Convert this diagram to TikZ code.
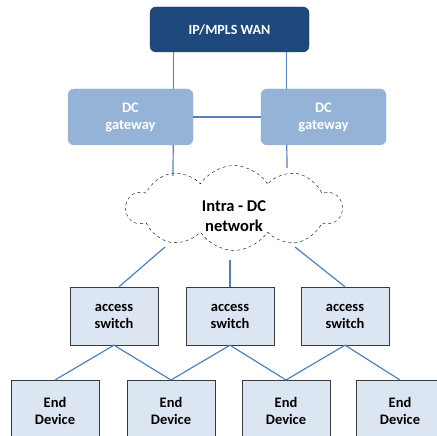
\documentclass[tikz,border=0pt]{standalone}
\usepackage{fontspec}
\setmainfont{Carlito}
\usetikzlibrary{shapes.symbols, positioning, calc}
\definecolor{wannavy}{HTML}{1F497D}
\definecolor{gwblue}{HTML}{95B3D7}
\definecolor{boxfill}{HTML}{DCE6F2}
\definecolor{boxline}{HTML}{3A3A3A}
\definecolor{linkblue}{HTML}{4F81BD}

\begin{document}
\begin{tikzpicture}[x=1pt, y=1pt,
  wanbox/.style={fill=wannavy, draw=wannavy!80!black, rounded corners=6pt, minimum width=159pt, minimum height=45pt, text=white, font=\fontsize{14}{17}\selectfont\bfseries},
  gwbox/.style={fill=gwblue, draw=gwblue, rounded corners=6pt, minimum width=125pt, minimum height=56pt, text=white, align=center, font=\fontsize{14.5}{17}\selectfont\bfseries},
  accbox/.style={fill=boxfill, draw=boxline, minimum width=88pt, minimum height=58pt, align=center, font=\fontsize{14.5}{17}\selectfont\bfseries},
  devbox/.style={accbox, minimum height=62pt},
  netcloud/.style={cloud, draw, dashed, cloud puffs=10, cloud puff arc=115, aspect=2.5, minimum width=215pt, minimum height=85pt},
  cloudtext/.style={align=center, font=\fontsize{16.5}{20}\selectfont\bfseries},
  link/.style={draw=linkblue, line width=1.2pt}
]
\useasboundingbox (0,0) rectangle (437,436);
\begin{scope}
\clip (0,0) rectangle (437,436);
% core
\node[wanbox] (wan) at (229.5,406.5) {IP/MPLS WAN};
\node[gwbox] (gwl) at (130.5,319) {DC\\gateway};
\node[gwbox] (gwr) at (323.5,319) {DC\\gateway};
\node[netcloud] (net) at (234,228) {};
\node[cloudtext] (nettxt) at ([yshift=-8pt]net.center) {Intra - DC\\network};
% access layer
\node[accbox] (sw1) at (114,120) {access\\switch};
\node[accbox] (sw2) at (230,120) {access\\switch};
\node[accbox] (sw3) at (345,120) {access\\switch};
% end devices
\node[devbox, anchor=north] (ed1) at (55,56) {End\\Device};
\node[devbox, anchor=north] (ed2) at (171,56) {End\\Device};
\node[devbox, anchor=north] (ed3) at (286,56) {End\\Device};
\node[devbox, anchor=north] (ed4) at (400,56) {End\\Device};
% cloud contact points
\coordinate (n1) at (173,260);
\coordinate (n2) at (287,268);
\coordinate (s1) at (165,189);
\coordinate (s2) at (230,176);
\coordinate (s3) at (295,189);
% links
\draw[link] ([xshift=-20pt]gwl.north east) -- ([xshift=-20pt]gwl.north east |- wan.south);
\draw[link] ([xshift=26pt]gwr.north west) -- ([xshift=26pt]gwr.north west |- wan.south);
\draw[link] (gwl.east) -- (gwr.west);
\draw[link] ([xshift=-20pt]gwl.south east) -- (n1);
\draw[link] ([xshift=26pt]gwr.south west) -- (n2);
\draw[link] (s1) -- ([xshift=5pt]sw1.north);
\draw[link] (s2) -- (sw2.north);
\draw[link] (s3) -- (sw3.north);
\foreach \sw/\da/\db in {sw1/ed1/ed2, sw2/ed2/ed3, sw3/ed3/ed4}
  \draw[link] (\da.north) -- (\sw.south) -- (\db.north);
\end{scope}
\end{tikzpicture}
\end{document}
